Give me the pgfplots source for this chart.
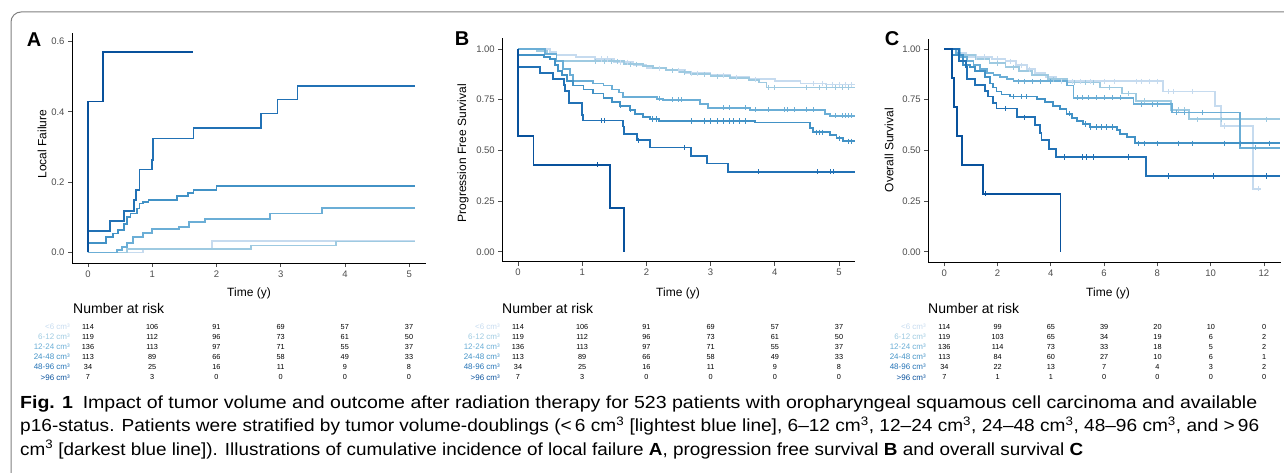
\documentclass[border=0pt]{standalone}
\usepackage{fontspec}
\setmainfont{Liberation Sans}
\usepackage{graphicx}
\usepackage{pgfplots}
\pgfplotsset{compat=1.18}

\definecolor{c1}{HTML}{C6DBEF}
\definecolor{c2}{HTML}{9ECAE1}
\definecolor{c3}{HTML}{6BAED6}
\definecolor{c4}{HTML}{4292C6}
\definecolor{c5}{HTML}{2171B5}
\definecolor{c6}{HTML}{08519C}
\definecolor{tickgray}{HTML}{4D4D4D}

\pgfplotsset{
  kmaxis/.style={
    scale only axis,
    anchor=south west,
    axis lines*=left,
    axis line style={black, line width=0.9pt, -},
    tick align=outside,
    major tick length=4pt,
    tick style={tickgray, line width=0.8pt},
    ticklabel style={font=\fontsize{9.5}{10}\selectfont, text=tickgray},
    /pgf/number format/assume math mode=true,
    /pgf/number format/fixed,
    /pgf/number format/fixed zerofill,
  },
  km/.style={const plot, line width=1.8pt, line join=miter, color=#1},
  cens/.style={only marks, mark=|, mark size=2.6pt, color=#1, mark options={line width=0.9pt}},
}

\begin{document}
\begin{tikzpicture}
\path[use as bounding box] (0pt,0pt) rectangle (1284pt,472pt);
\draw[black!50, line width=1pt, rounded corners=10pt] (11pt,-5pt) -- (11pt,460pt) -- (1295pt,460pt);

% ---------- A: local failure
\begin{axis}[kmaxis, at={(72pt,209pt)}, width=354pt, height=230pt,
  xmin=-0.25, xmax=5.26, ymin=-0.03, ymax=0.624,
  xtick={0,1,2,3,4,5}, ytick={0,0.2,0.4,0.6},
  yticklabel style={/pgf/number format/precision=1},
  xticklabel style={/pgf/number format/precision=0}]
\addplot[km=c1] coordinates {(0,0) (0.86,0.01) (1.93,0.032) (5.09,0.032)};
\addplot[km=c2] coordinates {(0,0) (0.6,0.01) (2.53,0.02) (3.86,0.031) (5.09,0.031)};
\addplot[km=c3] coordinates {(0,0) (0.45,0.006) (0.53,0.016) (0.6,0.026) (0.70,0.045) (0.86,0.055) (0.99,0.066) (1.42,0.072) (1.57,0.087) (1.82,0.095) (2.83,0.111) (3.64,0.127) (5.09,0.127)};
\addplot[km=c4] coordinates {(0,0) (0,0.028) (0.28,0.043) (0.39,0.054) (0.47,0.064) (0.56,0.082) (0.6,0.10) (0.66,0.111) (0.76,0.125) (0.8,0.139) (0.85,0.144) (0.94,0.149) (1.38,0.16) (1.56,0.17) (1.64,0.177) (2.0,0.189) (5.09,0.189)};
\addplot[km=c5] coordinates {(0,0) (0,0.06) (0.34,0.089) (0.56,0.118) (0.71,0.149) (0.75,0.177) (0.80,0.236) (1.0,0.264) (1.01,0.324) (1.64,0.355) (2.69,0.395) (2.95,0.435) (3.26,0.474) (5.09,0.474)};
\addplot[km=c6] coordinates {(0,0) (0,0.429) (0.23,0.571) (1.64,0.571)};
\end{axis}

% ---------- B: progression free survival
\begin{axis}[kmaxis, at={(502.3pt,210.3pt)}, width=352.7pt, height=223.7pt,
  xmin=-0.245, xmax=5.25, ymin=-0.049, ymax=1.054,
  xtick={0,1,2,3,4,5}, ytick={0,0.25,0.5,0.75,1},
  yticklabel style={/pgf/number format/precision=2},
  xticklabel style={/pgf/number format/precision=0}]
\addplot[km=c1] coordinates {(0,1) (0.5,0.985) (0.6,0.97) (0.9,0.96) (1.2,0.95) (1.5,0.935) (1.8,0.92) (2.0,0.905) (2.3,0.895) (2.6,0.88) (3.0,0.87) (3.3,0.86) (3.6,0.85) (4.0,0.84) (4.4,0.83) (4.8,0.825) (5.25,0.825)};
\addplot[cens=c1] coordinates {(1.3,0.95) (1.4,0.95) (1.6,0.935) (1.7,0.935) (2.2,0.905) (2.5,0.895) (2.7,0.88) (2.8,0.88) (3.2,0.87) (3.4,0.86) (3.7,0.85) (4.6,0.83) (4.75,0.83) (4.9,0.825) (5.0,0.825) (5.1,0.825) (5.2,0.825)};
\addplot[km=c2] coordinates {(0,1) (0.3,0.99) (0.45,0.975) (0.6,0.94) (1.65,0.925) (1.95,0.915) (2.1,0.905) (2.3,0.895) (2.5,0.885) (2.7,0.875) (3.0,0.865) (3.3,0.855) (3.6,0.845) (3.75,0.835) (3.87,0.81) (5.25,0.81)};
\addplot[cens=c2] coordinates {(1.2,0.94) (1.35,0.94) (1.45,0.94) (1.55,0.94) (1.75,0.925) (1.85,0.925) (2.4,0.895) (2.6,0.885) (2.9,0.875) (3.1,0.865) (3.9,0.81) (4.0,0.81) (4.5,0.81) (4.7,0.81) (4.8,0.81) (4.95,0.81) (5.05,0.81) (5.15,0.81)};
\addplot[km=c3] coordinates {(0,1) (0.42,0.975) (0.6,0.94) (0.70,0.90) (0.81,0.87) (0.86,0.84) (1.17,0.83) (1.33,0.82) (1.46,0.80) (1.57,0.785) (1.64,0.765) (2.16,0.755) (2.26,0.75) (2.83,0.73) (2.96,0.71) (3.61,0.70) (4.78,0.68) (4.86,0.67) (5.25,0.67)};
\addplot[cens=c3] coordinates {(2.2,0.755) (2.4,0.75) (2.5,0.75) (2.55,0.75) (3.2,0.71) (3.3,0.71) (3.55,0.71) (3.7,0.70) (3.9,0.70) (4.15,0.70) (4.2,0.70) (4.3,0.70) (4.5,0.70) (4.6,0.70) (4.95,0.67) (5.05,0.67) (5.1,0.67) (5.15,0.67) (5.2,0.67)};
\addplot[km=c4] coordinates {(0,1) (0,0.97) (0.4,0.96) (0.5,0.95) (0.58,0.92) (0.62,0.89) (0.68,0.87) (0.76,0.84) (0.86,0.82) (1.02,0.80) (1.17,0.78) (1.33,0.76) (1.46,0.74) (1.59,0.72) (1.74,0.70) (1.82,0.68) (1.95,0.665) (2.06,0.655) (2.19,0.645) (3.69,0.637) (4.55,0.61) (4.6,0.59) (4.86,0.575) (4.96,0.56) (5.06,0.545) (5.25,0.545)};
\addplot[cens=c4] coordinates {(1.6,0.72) (1.75,0.70) (2.1,0.655) (2.15,0.655) (2.7,0.645) (2.9,0.645) (3.0,0.645) (3.1,0.645) (3.2,0.645) (3.3,0.645) (3.35,0.645) (3.45,0.645) (3.55,0.645) (4.65,0.59) (4.7,0.59) (4.75,0.59) (5.0,0.56) (5.15,0.545) (5.2,0.545)};
\addplot[km=c5] coordinates {(0,1) (0,0.912) (0.34,0.882) (0.55,0.853) (0.71,0.824) (0.73,0.794) (0.80,0.735) (1.0,0.676) (1.01,0.647) (1.63,0.618) (1.65,0.58) (1.85,0.55) (2.06,0.514) (2.69,0.474) (2.95,0.435) (3.27,0.395) (5.25,0.395)};
\addplot[cens=c5] coordinates {(1.30,0.647) (1.34,0.647) (1.88,0.55) (2.6,0.514) (3.75,0.395) (4.66,0.395) (4.87,0.395) (4.92,0.395)};
\addplot[km=c6] coordinates {(0,1) (0,0.571) (0.24,0.429) (1.43,0.214) (1.65,0)};
\addplot[cens=c6] coordinates {(1.23,0.429)};
\end{axis}

% ---------- C: overall survival
\begin{axis}[kmaxis, at={(928.3pt,209.7pt)}, width=352.4pt, height=223.3pt,
  xmin=-0.6, xmax=12.63, ymin=-0.052, ymax=1.049,
  xtick={0,2,4,6,8,10,12}, ytick={0,0.25,0.5,0.75,1},
  yticklabel style={/pgf/number format/precision=2},
  xticklabel style={/pgf/number format/precision=0}]
\addplot[km=c1] coordinates {(0,1) (0.5,0.98) (0.8,0.96) (1.8,0.95) (2.3,0.94) (2.7,0.92) (3.1,0.9) (3.4,0.88) (3.8,0.86) (4.2,0.84) (8.22,0.79) (10.16,0.72) (10.4,0.62) (11.6,0.31) (11.9,0.31)};
\addplot[cens=c1] coordinates {(1.2,0.96) (1.5,0.96) (2.0,0.95) (2.5,0.94) (2.9,0.92) (3.2,0.9) (4.4,0.84) (4.8,0.84) (5.1,0.84) (5.5,0.84) (6.0,0.84) (6.4,0.84) (7.2,0.84) (7.4,0.84) (7.7,0.84) (8.0,0.84) (8.4,0.79) (8.6,0.79) (9.3,0.79) (10.5,0.62) (11.8,0.31)};
\addplot[km=c2] coordinates {(0,1) (0.6,0.97) (1.2,0.95) (1.7,0.93) (2.3,0.91) (2.8,0.89) (3.3,0.87) (3.9,0.85) (4.6,0.835) (5.85,0.81) (6.66,0.78) (7.2,0.745) (8.5,0.70) (9.2,0.653) (12.6,0.653)};
\addplot[cens=c2] coordinates {(2.0,0.93) (2.6,0.91) (4.1,0.85) (4.9,0.835) (5.3,0.835) (5.6,0.835) (6.2,0.81) (6.9,0.78) (7.5,0.745) (8.8,0.70) (9.0,0.70) (9.5,0.653) (10.4,0.653) (12.1,0.653)};
\addplot[km=c3] coordinates {(0,1) (0.45,0.98) (0.6,0.96) (0.85,0.94) (1.1,0.92) (1.35,0.90) (1.6,0.88) (1.85,0.87) (2.1,0.86) (2.35,0.85) (2.6,0.84) (4.6,0.82) (4.85,0.76) (7.1,0.727) (8.54,0.687) (11.1,0.513) (12.6,0.513)};
\addplot[cens=c3] coordinates {(2.8,0.84) (3.0,0.84) (3.3,0.84) (3.6,0.84) (4.0,0.84) (5.0,0.76) (5.2,0.76) (5.4,0.76) (5.7,0.76) (6.0,0.76) (6.3,0.76) (6.6,0.76) (7.4,0.727) (7.8,0.727) (8.0,0.727) (8.7,0.687) (9.0,0.687) (9.7,0.687) (11.7,0.513)};
\addplot[km=c4] coordinates {(0,1) (0.3,0.97) (0.71,0.92) (0.96,0.91) (1.15,0.89) (1.53,0.86) (1.71,0.83) (1.84,0.81) (1.96,0.79) (2.15,0.775) (2.47,0.765) (3.47,0.755) (3.78,0.74) (4.09,0.72) (4.34,0.705) (4.59,0.68) (4.78,0.66) (4.97,0.645) (5.22,0.63) (5.47,0.615) (6.47,0.60) (6.6,0.58) (6.85,0.565) (7.16,0.535) (12.6,0.535)};
\addplot[cens=c4] coordinates {(2.6,0.765) (2.9,0.765) (3.1,0.765) (4.7,0.68) (5.3,0.63) (5.5,0.615) (5.7,0.615) (5.9,0.615) (6.1,0.615) (6.3,0.615) (7.3,0.535) (7.5,0.535) (8.0,0.535) (8.8,0.535) (9.3,0.535) (10.5,0.535) (11.1,0.535) (12.2,0.535)};
\addplot[km=c5] coordinates {(0,1) (0.56,0.94) (0.81,0.91) (0.84,0.882) (0.86,0.853) (1.15,0.824) (1.53,0.794) (1.65,0.765) (1.84,0.735) (1.96,0.706) (2.72,0.663) (3.41,0.625) (3.6,0.584) (3.65,0.55) (3.93,0.505) (4.2,0.467) (7.57,0.374) (12.6,0.374)};
\addplot[cens=c5] coordinates {(2.3,0.706) (3.0,0.663) (4.5,0.467) (5.2,0.467) (5.35,0.467) (5.6,0.467) (6.9,0.467) (8.4,0.374) (10.1,0.374) (12.1,0.374)};
\addplot[km=c6] coordinates {(0,1) (0.3,0.857) (0.35,0.714) (0.48,0.571) (0.66,0.429) (1.45,0.286) (4.36,0)};
\addplot[cens=c6] coordinates {(1.55,0.286)};
\end{axis}

\begin{scope}[x=1pt,y=1pt]
% ---------- panel letters and axis titles
\node[font=\bfseries\fontsize{20}{20}\selectfont] at (34,432) {A};
\node[font=\bfseries\fontsize{20}{20}\selectfont] at (462,433) {B};
\node[font=\bfseries\fontsize{20}{20}\selectfont] at (892,433) {C};
\node[rotate=90, font=\fontsize{12}{12}\selectfont] at (42,328) {Local Failure};
\node[rotate=90, font=\fontsize{12}{12}\selectfont] at (463,319) {Progression Free Survival};
\node[rotate=90, font=\fontsize{12}{12}\selectfont] at (889,322) {Overall Survival};
\foreach \xc in {249,678,1108}
  \node[font=\fontsize{12}{12}\selectfont] at (\xc,179) {Time (y)};
\foreach \xl in {73,502,928}
  \node[anchor=west, inner sep=0pt, font=\fontsize{14}{14}\selectfont] at (\xl,164) {Number at risk};

% ---------- number at risk tables
\def\rowsAB{{<6 cm³/c1/145.3/{114,106,91,69,57,37}},{6-12 cm³/c2/135.3/{119,112,96,73,61,50}},{12-24 cm³/c3/125/{136,113,97,71,55,37}},{24-48 cm³/c4/115/{113,89,66,58,49,33}},{48-96 cm³/c5/105/{34,25,16,11,9,8}},{>96 cm³/c6/94.7/{7,3,0,0,0,0}}}
\foreach \lab/\col/\yy/\vals in \rowsAB {
  \node[anchor=east, inner sep=0pt, text=\col, font=\fontsize{8}{8}\selectfont] at (70,\yy) {\lab};
  \node[anchor=east, inner sep=0pt, text=\col, font=\fontsize{8}{8}\selectfont] at (500,\yy) {\lab};
  \foreach \v [count=\i from 0] in \vals {
    \node[inner sep=0pt, font=\fontsize{7.3}{7.3}\selectfont] at (88+64.2*\i,\yy) {\v};
    \node[inner sep=0pt, font=\fontsize{7.3}{7.3}\selectfont] at (518+64.2*\i,\yy) {\v};
  }
}
\def\rowsC{{<6 cm³/c1/145.3/{114,99,65,39,20,10,0}},{6-12 cm³/c2/135.3/{119,103,65,34,19,6,2}},{12-24 cm³/c3/125/{136,114,73,33,18,5,2}},{24-48 cm³/c4/115/{113,84,60,27,10,6,1}},{48-96 cm³/c5/105/{34,22,13,7,4,3,2}},{>96 cm³/c6/94.7/{7,1,1,0,0,0,0}}}
\foreach \lab/\col/\yy/\vals in \rowsC {
  \node[anchor=east, inner sep=0pt, text=\col, font=\fontsize{8}{8}\selectfont] at (926,\yy) {\lab};
  \foreach \v [count=\i from 0] in \vals
    \node[inner sep=0pt, font=\fontsize{7.3}{7.3}\selectfont] at (944.3+53.3*\i,\yy) {\v};
}

% ---------- caption
\node[anchor=base west, inner sep=0pt, font=\fontsize{17.5}{17.5}\selectfont] at (20,64)
  {\resizebox{1237pt}{\height}{\textbf{Fig. 1}\enspace Impact of tumor volume and outcome after radiation therapy for 523 patients with oropharyngeal squamous cell carcinoma and available}};
\node[anchor=base west, inner sep=0pt, font=\fontsize{17.5}{17.5}\selectfont] at (20,40.5)
  {\resizebox{1239pt}{\height}{p16-status. Patients were stratified by tumor volume-doublings (<\,6 cm\textsuperscript{3} [lightest blue line], 6–12 cm\textsuperscript{3}, 12–24 cm\textsuperscript{3}, 24–48 cm\textsuperscript{3}, 48–96 cm\textsuperscript{3}, and >\,96}};
\node[anchor=base west, inner sep=0pt, font=\fontsize{17.5}{17.5}\selectfont] at (20,17)
  {\resizebox{1063pt}{\height}{cm\textsuperscript{3} [darkest blue line]). Illustrations of cumulative incidence of local failure \textbf{A}, progression free survival \textbf{B} and overall survival \textbf{C}}};
\end{scope}
\end{tikzpicture}
\end{document}
